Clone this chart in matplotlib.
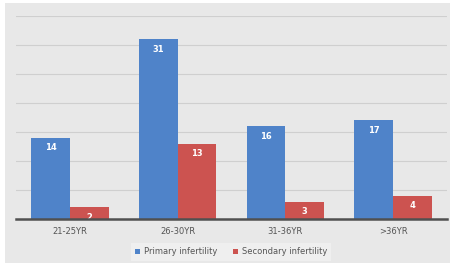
import matplotlib.pyplot as plt
import numpy as np
from matplotlib.patches import Rectangle

categories = ['21-25YR', '26-30YR', '31-36YR', '>36YR']
primary = [14, 31, 16, 17]
secondary = [2, 13, 3, 4]

blue = '#4f83c9'
red = '#cc5350'

fig = plt.figure(figsize=(4.55, 2.67), dpi=100)
fig.patch.set_facecolor('white')
# gray chart area behind everything
fig.patches.append(Rectangle((5 / 455, 4 / 267), 445 / 455, 260 / 267,
                             transform=fig.transFigure, facecolor='#e8e8e8',
                             edgecolor='none', zorder=-10))

ax = fig.add_axes([16 / 455, 1 - 219 / 267, 431 / 455, 203 / 267])
ax.set_facecolor('none')

x = np.arange(len(categories))
w = 0.36
b1 = ax.bar(x - w / 2, primary, w, color=blue, zorder=3, label='Primary infertility')
b2 = ax.bar(x + w / 2, secondary, w, color=red, zorder=3, label='Secondary infertility')

for bars in (b1, b2):
    for rect in bars:
        h = rect.get_height()
        ax.text(rect.get_x() + rect.get_width() / 2, h - 1.7, '%d' % h,
                ha='center', va='center', color='white', fontsize=6,
                fontweight='bold', zorder=4)

ax.set_xlim(-0.5, 3.5)
ax.set_ylim(0, 35)
ax.set_yticks(np.arange(5, 36, 5))
ax.yaxis.grid(True, color='#cfcfcf', linewidth=0.8, zorder=0)
ax.tick_params(axis='y', left=False, labelleft=False)
ax.tick_params(axis='x', length=0, pad=6, labelsize=6, labelcolor='#555555')
ax.set_xticks(x)
ax.set_xticklabels(categories)
for s in ['top', 'right', 'left']:
    ax.spines[s].set_visible(False)
ax.spines['bottom'].set_color('#505050')
ax.spines['bottom'].set_linewidth(1.8)
ax.spines['bottom'].set_zorder(5)

leg = fig.legend(loc='center', bbox_to_anchor=(231 / 455, 1 - 252 / 267),
                 ncol=2, fontsize=6, frameon=True, handlelength=0.6,
                 handleheight=0.6, handletextpad=0.5, columnspacing=1.8,
                 borderpad=0.5, fancybox=False)
leg.get_frame().set_facecolor('#f2f2f2')
leg.get_frame().set_edgecolor('none')
for t in leg.get_texts():
    t.set_color('#555555')

fig.savefig('out.png', dpi=100)
